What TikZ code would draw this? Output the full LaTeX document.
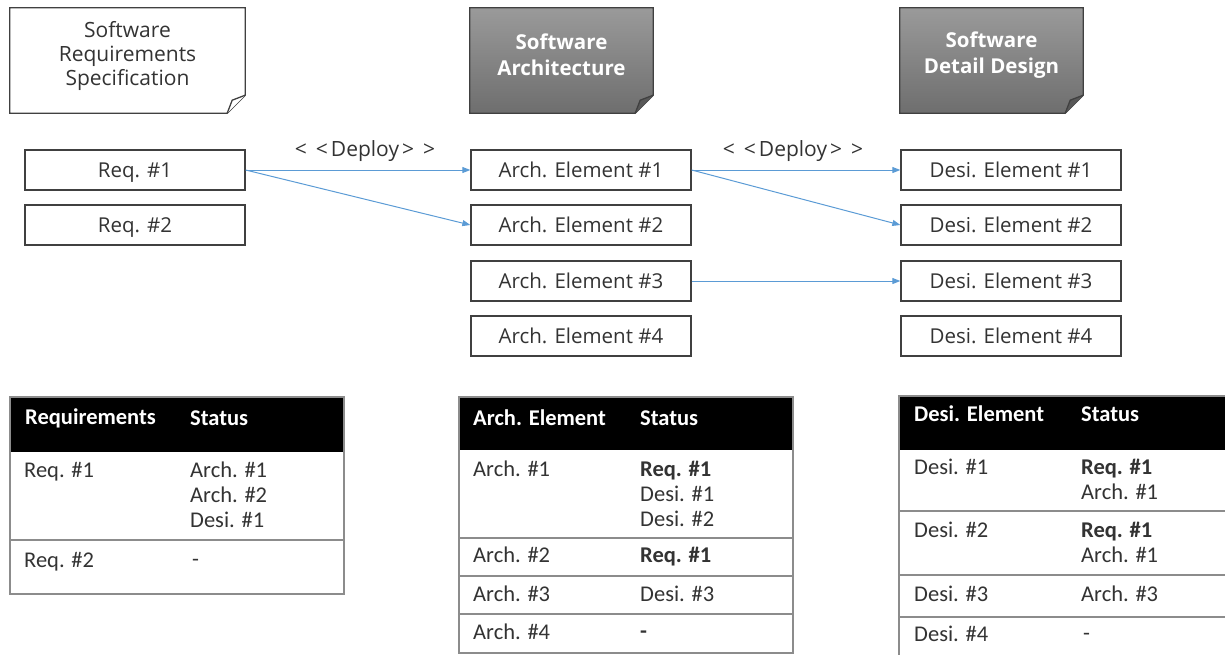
\documentclass[tikz,border=0pt]{standalone}
\usepackage{fontspec}
\setmainfont{Open Sans}
\newfontfamily\tabfont{Carlito}
\usetikzlibrary{arrows.meta,backgrounds}
\definecolor{deploy}{HTML}{5B9BD5}
\definecolor{docedge}{HTML}{404040}
\definecolor{docTop}{HTML}{9A9A9A}
\definecolor{docBot}{HTML}{6E6E6E}
\definecolor{tabedge}{HTML}{8C8C8C}
\definecolor{txt}{HTML}{333333}
\newcommand{\deploytext}{{<}\hspace{9pt}{<}\hspace{3pt}Deploy\hspace{3pt}{>}\hspace{9pt}{>}}
\begin{document}
\begin{tikzpicture}[x=1pt,y=-1pt,
  elem/.style={draw=docedge, line width=1.3pt, minimum width=220pt, minimum height=40pt, inner sep=0pt,
    text height=15pt, text depth=1pt,
    font=\fontsize{20.5}{24}\selectfont, text=txt},
  docbox/.style={minimum width=183pt, minimum height=105pt, inner sep=0pt},
  doctxt/.style={align=center, font=\fontsize{21}{24}\selectfont, text=txt, inner sep=0pt},
  doctxtb/.style={align=center, font=\bfseries\fontsize{20.5}{26}\selectfont, text=white, inner sep=0pt},
  docline/.style={draw=docedge, line width=1.3pt, line join=miter},
  dep/.style={draw=deploy, line width=1pt, -{Triangle[length=8pt,width=6pt]}},
  deplab/.style={font=\fontsize{21}{24}\selectfont, text=txt, inner sep=0pt},
  tabline/.style={draw=tabedge, line width=1.5pt},
  th/.style={anchor=west, font=\tabfont\bfseries\fontsize{22.5}{25}\selectfont, text=white, inner sep=0pt},
  td/.style={anchor=north west, align=left, font=\tabfont\fontsize{22.5}{25}\selectfont, text=txt, inner sep=0pt},
]
\useasboundingbox (0,0) rectangle (1225,654);

% ---------- document boxes ----------
\node[docbox, minimum width=235pt] (srs) at (127.5,60.5) {};
\draw[docline, fill=white] (srs.north west) -- (srs.north east) -- ([yshift=18pt]srs.south east)
  -- ([xshift=-18pt]srs.south east) -- (srs.south west) -- cycle;
\draw[docline, fill=white] ([yshift=18pt]srs.south east) -- ([xshift=-13pt,yshift=13pt]srs.south east)
  -- ([xshift=-18pt]srs.south east);
\node[doctxt, anchor=north] (srst) at (127.5,21) {Software\\Requirements\\Specification};

\node[docbox] (sa) at (561.5,60.5) {};
\shade[top color=docTop, bottom color=docBot] (sa.north west) -- (sa.north east) -- ([yshift=18pt]sa.south east)
  -- ([xshift=-18pt]sa.south east) -- (sa.south west) -- cycle;
\draw[docline] (sa.north west) -- (sa.north east) -- ([yshift=18pt]sa.south east)
  -- ([xshift=-18pt]sa.south east) -- (sa.south west) -- cycle;
\draw[docline, fill=docBot!80!black] ([yshift=18pt]sa.south east) -- ([xshift=-13pt,yshift=13pt]sa.south east)
  -- ([xshift=-18pt]sa.south east);
\node[doctxtb] (sat) at (561.5,55) {Software\\Architecture};

\node[docbox] (sd) at (991.5,60.5) {};
\shade[top color=docTop, bottom color=docBot] (sd.north west) -- (sd.north east) -- ([yshift=18pt]sd.south east)
  -- ([xshift=-18pt]sd.south east) -- (sd.south west) -- cycle;
\draw[docline] (sd.north west) -- (sd.north east) -- ([yshift=18pt]sd.south east)
  -- ([xshift=-18pt]sd.south east) -- (sd.south west) -- cycle;
\draw[docline, fill=docBot!80!black] ([yshift=18pt]sd.south east) -- ([xshift=-13pt,yshift=13pt]sd.south east)
  -- ([xshift=-18pt]sd.south east);
\node[doctxtb] (sdt) at (991.5,55) {Software\\Detail Design};

% ---------- element boxes ----------
\node[elem] (r1) at (135,170) {Req. \#1};
\node[elem] (r2) at (135,225) {Req. \#2};
\node[elem] (a1) at (581,170) {Arch. Element \#1};
\node[elem] (a2) at (581,225) {Arch. Element \#2};
\node[elem] (a3) at (581,281) {Arch. Element \#3};
\node[elem] (a4) at (581,336) {Arch. Element \#4};
\node[elem] (d1) at (1011,170) {Desi. Element \#1};
\node[elem] (d2) at (1011,225) {Desi. Element \#2};
\node[elem] (d3) at (1011,281) {Desi. Element \#3};
\node[elem] (d4) at (1011,336) {Desi. Element \#4};

\draw[dep] (r1.east) -- (a1.west);
\draw[dep] (r1.east) -- (a2.west);
\draw[dep] (a1.east) -- (d1.west);
\draw[dep] (a1.east) -- (d2.west);
\draw[dep] (a3.east) -- (d3.west);

\node[deplab] (l1) at (365,151) {\deploytext};
\node[deplab] (l2) at (793,151) {\deploytext};

% ---------- table 1 ----------
\fill[black] (10,397) rectangle (344,452);
\draw[tabline] (10,397) rectangle (344,594);
\draw[tabline] (10,540) -- (344,540);
\node[th] (t1h1) at (25,418) {Requirements};
\node[th] (t1h2) at (190,418) {Status};
\node[td] (t1a) at (24,462) {Req. \#1};
\node[td] (t1b) at (190,462) {Arch. \#1\\Arch. \#2\\Desi. \#1};
\node[td] (t1c) at (24,552) {Req. \#2};
\node[td] (t1d) at (192,552) {\vphantom{Ag}-};

% ---------- table 2 ----------
\fill[black] (459,397) rectangle (793,450);
\draw[tabline] (459,397) rectangle (793,653);
\draw[tabline] (459,538) -- (793,538);
\draw[tabline] (459,576) -- (793,576);
\draw[tabline] (459,614) -- (793,614);
\node[th] (t2h1) at (473,418) {Arch. Element};
\node[th] (t2h2) at (640,418) {Status};
\node[td] (t2a) at (473,461) {Arch. \#1};
\node[td] (t2b) at (640,461) {\textbf{Req. \#1}\\Desi. \#1\\Desi. \#2};
\node[td] (t2c) at (473,547) {Arch. \#2};
\node[td] (t2d) at (640,547) {\textbf{Req. \#1}};
\node[td] (t2e) at (473,586) {Arch. \#3};
\node[td] (t2f) at (640,586) {Desi. \#3};
\node[td] (t2g) at (473,624) {Arch. \#4};
\node[td] (t2h) at (640,624) {\vphantom{Ag}\textbf{-}};

% ---------- table 3 ----------
\fill[black] (899,396) rectangle (1225,450);
\draw[tabline] (1226,396) -- (899,396) -- (899,655);
\draw[tabline] (899,511) -- (1225,511);
\draw[tabline] (899,575) -- (1225,575);
\draw[tabline] (899,617) -- (1225,617);
\node[th] (t3h1) at (914,414) {Desi. Element};
\node[th] (t3h2) at (1081,414) {Status};
\node[td] (t3a) at (914,459) {Desi. \#1};
\node[td] (t3b) at (1081,459) {\textbf{Req. \#1}\\Arch. \#1};
\node[td] (t3c) at (914,522) {Desi. \#2};
\node[td] (t3d) at (1081,522) {\textbf{Req. \#1}\\Arch. \#1};
\node[td] (t3e) at (914,586) {Desi. \#3};
\node[td] (t3f) at (1081,586) {Arch. \#3};
\node[td] (t3g) at (914,626) {Desi. \#4};
\node[td] (t3h) at (1083,626) {\vphantom{Ag}-};
\end{tikzpicture}
\end{document}
